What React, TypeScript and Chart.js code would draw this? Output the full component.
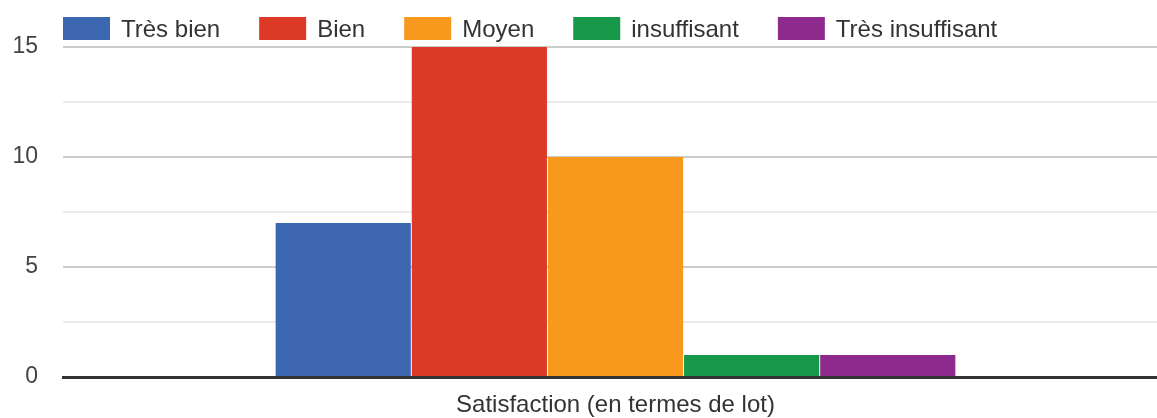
import React, { useEffect, useRef } from 'react';
import { Chart, registerables } from 'chart.js';

Chart.register(...registerables);

const categories = ['Satisfaction (en termes de lot)'];
const seriesNames = ['Très bien', 'Bien', 'Moyen', 'insuffisant', 'Très insuffisant'];
const tresBien = [7];
const bien = [15];
const moyen = [10];
const insuffisant = [1];
const tresInsuffisant = [1];
const seriesColors = ['#3d66b0', '#dc3a26', '#f8991e', '#17984a', '#8e2a8e'];
const yTickLabels = [0, 5, 10, 15];

const FONT = '"Liberation Sans", Arial, sans-serif';

const legendPlugin = {
  id: 'topLegend',
  afterDraw(chart: any) {
    const ctx = chart.ctx;
    ctx.save();
    ctx.font = `24px ${FONT}`;
    ctx.textBaseline = 'middle';
    ctx.textAlign = 'left';
    let x = chart.chartArea.left;
    const y = 17;
    const bw = 47;
    const bh = 23;
    chart.data.datasets.forEach((ds: any) => {
      ctx.fillStyle = ds.backgroundColor;
      ctx.fillRect(x, y, bw, bh);
      ctx.fillStyle = '#333333';
      const tx = x + 58;
      ctx.fillText(ds.label, tx, y + bh / 2 + 1.5);
      x = tx + ctx.measureText(ds.label).width + 39;
    });
    ctx.restore();
  },
};

export default function App() {
  const ref = useRef<HTMLCanvasElement | null>(null);
  useEffect(() => {
    if (!ref.current) return;
    const values = [tresBien, bien, moyen, insuffisant, tresInsuffisant];
    const chart = new Chart(ref.current, {
      type: 'bar',
      data: {
        labels: categories,
        datasets: seriesNames.map((name, i) => ({
          label: name,
          data: values[i],
          backgroundColor: seriesColors[i],
          borderWidth: 0,
          categoryPercentage: 0.616,
          barPercentage: 0.993,
        })),
      },
      options: {
        animation: false,
        responsive: true,
        maintainAspectRatio: false,
        layout: { padding: { top: 47, left: 0, right: 0, bottom: 0 } },
        plugins: {
          legend: { display: false },
          tooltip: { enabled: false },
        },
        scales: {
          x: {
            grid: { display: false },
            border: { display: true, color: '#333333', width: 3, z: 1 },
            ticks: {
              color: '#333333',
              font: { family: FONT, size: 24 },
              padding: 6,
              maxRotation: 0,
            },
            afterFit: (scale: any) => {
              scale.height = 41;
            },
          },
          y: {
            min: 0,
            max: 15,
            border: { display: false },
            grid: {
              drawTicks: false,
              lineWidth: 2,
              color: (c: any) => {
                const v = c.tick ? c.tick.value : 0;
                if (v === 0) return 'rgba(0,0,0,0)';
                return yTickLabels.includes(v) ? '#cccccc' : '#ebebeb';
              },
            },
            ticks: {
              stepSize: 2.5,
              color: '#444444',
              font: { family: FONT, size: 23 },
              padding: 25,
              callback: (v: any) => (yTickLabels.includes(Number(v)) ? String(v) : ''),
            },
            afterFit: (scale: any) => {
              scale.width = 63;
              scale.paddingTop = 0;
              scale.paddingBottom = 0;
            },
          },
        },
      },
      plugins: [legendPlugin],
    });
    return () => chart.destroy();
  }, []);

  return (
    <div style={{ position: 'fixed', left: 0, top: 0, width: 1157, height: 418, overflow: 'hidden', background: '#fff' }}>
      <div style={{ position: 'relative', width: 1168, height: 418 }}>
        <canvas ref={ref} />
      </div>
    </div>
  );
}
